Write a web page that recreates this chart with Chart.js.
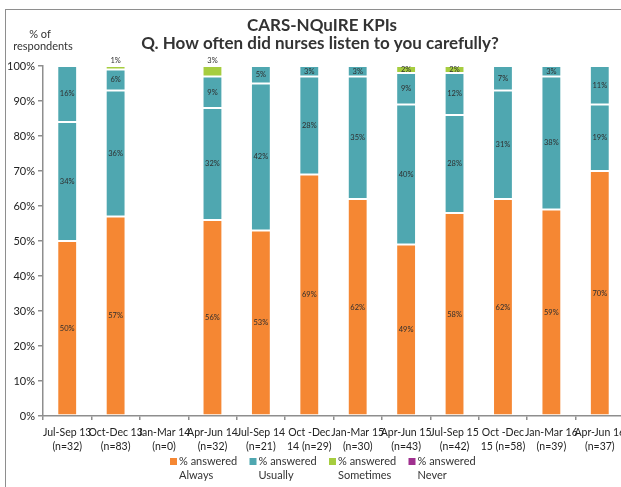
<!DOCTYPE html>
<html>
<head>
<meta charset="utf-8">
<script src="https://cdn.jsdelivr.net/npm/chart.js@4"></script>
<style>
  body { margin: 0; overflow: hidden; background: #fff; }
  .frame { position: absolute; left: 5px; top: 9px; width: 800px; height: 700px; border: 1.5px solid #8e8e8e; }
  .wrap { position: absolute; left: 0; top: 0; width: 644px; height: 487px; }
</style>
</head>
<body>
<div class="frame"></div>
<div class="wrap"><canvas id="myChart"></canvas></div>
<script>
const categories = [
  ['Jul-Sep 13', '(n=32)'], ['Oct-Dec 13', '(n=83)'], ['Jan-Mar 14', '(n=0)'],
  ['Apr-Jun 14', '(n=32)'], ['Jul-Sep 14', '(n=21)'], ['Oct -Dec', '14 (n=29)'],
  ['Jan-Mar 15', '(n=30)'], ['Apr-Jun 15', '(n=43)'], ['Jul-Sep 15', '(n=42)'],
  ['Oct -Dec', '15 (n=58)'], ['Jan-Mar 16', '(n=39)'], ['Apr-Jun 16', '(n=37)']
];
const always = [50, 57, 0, 56, 53, 69, 62, 49, 58, 62, 59, 70];
const usually = [34, 36, 0, 32, 42, 28, 35, 40, 28, 31, 38, 19];
const usuallyUpper = [16, 6, 0, 9, 5, 3, 3, 9, 12, 7, 3, 11];
const sometimes = [0, 1, 0, 3, 0, 0, 0, 2, 2, 0, 0, 0];
const never = [0, 0, 0, 0, 0, 0, 0, 0, 0, 0, 0, 0];
const yTicks = [0, 10, 20, 30, 40, 50, 60, 70, 80, 90, 100];

const FONT = 'Lato, "Open Sans", sans-serif';
const labelAbove = [1, 3]; // small green bits get their label over the bar

function ds(label, data, color, inLegend) {
  return {
    label: label,
    data: data,
    backgroundColor: color,
    borderColor: 'rgba(255,255,255,0.45)',
    borderWidth: c => (c.raw ? 1 : 0),
    borderSkipped: false,
    inLegend: inLegend
  };
}

const barLabels = {
  id: 'barLabels',
  afterDatasetsDraw(chart) {
    const ctx = chart.ctx;
    ctx.save();
    ctx.font = '7.5px ' + FONT;
    ctx.fillStyle = '#2e2e2e';
    ctx.textAlign = 'center';
    ctx.textBaseline = 'middle';
    chart.data.datasets.forEach((d, i) => {
      chart.getDatasetMeta(i).data.forEach((bar, j) => {
        const v = d.data[j];
        if (!v) return;
        let y = (bar.y + bar.base) / 2;
        if (d.label.indexOf('Sometimes') >= 0 && labelAbove.includes(j)) y = bar.y - 5;
        ctx.fillText(v + '%', bar.x, y);
      });
    });
    ctx.restore();
  }
};

const extras = {
  id: 'extras',
  afterDraw(chart) {
    const ctx = chart.ctx;
    ctx.save();
    ctx.fillStyle = '#333';
    ctx.textAlign = 'center';
    ctx.textBaseline = 'middle';
    ctx.font = 'bold 17px ' + FONT;
    ctx.fillText('CARS-NQuIRE KPIs', 322, 26);
    ctx.fillText('Q. How often did nurses listen to you carefully?', 320, 44);
    ctx.font = '11px ' + FONT;
    ctx.fillText('% of', 40, 34);
    ctx.fillText('respondents', 43, 46);

    // legend
    let k = 0;
    ctx.textAlign = 'left';
    chart.data.datasets.forEach(d => {
      if (!d.inLegend) return;
      const x = 170 + k * 79.5;
      ctx.fillStyle = d.backgroundColor;
      ctx.fillRect(x, 458, 7, 7);
      ctx.fillStyle = '#333';
      ctx.fillText('% answered', x + 9, 461.5);
      ctx.fillText(d.label.replace('% answered ', ''), x + 9, 475);
      k++;
    });
    ctx.restore();
  }
};

let ctx = document.getElementById('myChart').getContext('2d');
var myChart = new Chart(ctx, {
  type: 'bar',
  data: {
    labels: categories,
    datasets: [
      ds('% answered Always', always, '#f58733', true),
      ds('% answered Usually', usually, '#4fa7b0', true),
      ds('% answered Usually (upper)', usuallyUpper, '#4fa7b0', false),
      ds('% answered Sometimes', sometimes, '#a6cd3f', true),
      ds('% answered Never', never, '#a0308f', true)
    ]
  },
  plugins: [barLabels, extras],
  options: {
    responsive: true,
    maintainAspectRatio: false,
    animation: false,
    layout: { padding: { top: 66, left: 0, right: 20, bottom: 0 } },
    datasets: { bar: { categoryPercentage: 1, barPercentage: 0.41 } },
    plugins: {
      legend: { display: false },
      tooltip: { enabled: false }
    },
    scales: {
      x: {
        stacked: true,
        afterFit: s => { s.height = 71; },
        border: { color: '#8e8e8e', width: 1.5 },
        grid: { drawOnChartArea: false, tickLength: 4, color: '#8e8e8e', lineWidth: 1.5 },
        ticks: {
          autoSkip: false, maxRotation: 0, padding: 5, color: '#222',
          font: { family: FONT, size: 10.5, lineHeight: 1.4 }
        }
      },
      y: {
        stacked: true,
        min: 0,
        max: 100,
        afterFit: s => { s.width = 43; },
        afterBuildTicks: s => { s.ticks = yTicks.map(v => ({ value: v })); },
        border: { color: '#8e8e8e', width: 1.5 },
        grid: { drawOnChartArea: false, tickLength: 5, color: '#8e8e8e', lineWidth: 1.5 },
        ticks: {
          padding: 3, color: '#222',
          font: { family: FONT, size: 11 },
          callback: v => v + '%'
        }
      }
    }
  }
});
</script>
</body>
</html>
